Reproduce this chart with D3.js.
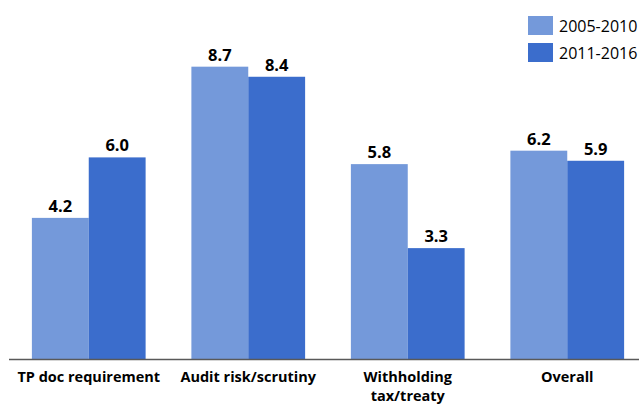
<!DOCTYPE html>
<html>
<head>
<meta charset="utf-8">
<script src="https://cdn.jsdelivr.net/npm/d3@7"></script>
<style>
  body { margin: 0; background: #fff; }
  text { font-family: "Open Sans", sans-serif; fill: #000; }
</style>
</head>
<body>
<div id="container"></div>
<script>
var categories = ["TP doc requirement", "Audit risk/scrutiny", "Withholding\ntax/treaty", "Overall"];
var series = ["2005-2010", "2011-2016"];
var values2005 = [4.2, 8.7, 5.8, 6.2];
var values2011 = [6.0, 8.4, 3.3, 5.9];

var color = ["#7499da", "#3b6dcc"];

var width = 639,
    height = 405,
    baseline = 359;

var svg = d3.select("#container").append("svg")
    .attr("width", width)
    .attr("height", height);

// groups
var x0 = d3.scaleBand()
    .domain(categories)
    .range([9, 647])
    .paddingInner(0.287)
    .paddingOuter(0.1435);

var x1 = d3.scaleBand()
    .domain(series)
    .range([0, x0.bandwidth()]);

var y = d3.scaleLinear()
    .domain([0, 10])
    .range([baseline, 23]);

var rows = categories.map(function(c, i) {
    return { cat: c, vals: [values2005[i], values2011[i]] };
});

var groups = svg.selectAll(".group")
    .data(rows)
    .enter().append("g")
    .attr("class", "group")
    .attr("transform", function(d) { return "translate(" + x0(d.cat) + ",0)"; });

groups.selectAll("rect")
    .data(function(d) { return d.vals.map(function(v, j) { return { s: series[j], v: v, j: j }; }); })
    .enter().append("rect")
    .attr("x", function(d) { return x1(d.s); })
    .attr("y", function(d) { return y(d.v); })
    .attr("width", x1.bandwidth())
    .attr("height", function(d) { return baseline - y(d.v); })
    .style("fill", function(d) { return color[d.j]; });

groups.selectAll(".val")
    .data(function(d) { return d.vals.map(function(v, j) { return { s: series[j], v: v }; }); })
    .enter().append("text")
    .attr("class", "val")
    .attr("x", function(d) { return x1(d.s) + x1.bandwidth() / 2; })
    .attr("y", function(d) { return y(d.v) - 6; })
    .attr("text-anchor", "middle")
    .style("font-size", "16.5px")
    .style("font-weight", "bold")
    .text(function(d) { return d3.format(".1f")(d.v); });

// x axis line
svg.append("line")
    .attr("x1", 9).attr("x2", width)
    .attr("y1", baseline + 0.5).attr("y2", baseline + 0.5)
    .style("stroke", "#595959")
    .style("stroke-width", 1.3);

// category labels, one text per line
var catLines = [];
categories.forEach(function(c) {
    c.split("\n").forEach(function(line, i) {
        catLines.push({ cat: c, line: line, i: i });
    });
});

svg.selectAll(".cat")
    .data(catLines)
    .enter().append("text")
    .attr("class", "cat")
    .attr("text-anchor", "middle")
    .attr("x", function(d) { return x0(d.cat) + x0.bandwidth() / 2; })
    .attr("y", function(d) { return 381.5 + d.i * 19.8; })
    .style("font-size", "14.5px")
    .style("font-weight", "bold")
    .text(function(d) { return d.line; });

// legend
var legend = svg.selectAll(".legend")
    .data(series)
    .enter().append("g")
    .attr("class", "legend")
    .attr("transform", function(d, i) { return "translate(528," + (16 + i * 27) + ")"; });

legend.append("rect")
    .attr("width", 25)
    .attr("height", 19)
    .style("fill", function(d, i) { return color[i]; });

legend.append("text")
    .attr("x", 31)
    .attr("y", 16)
    .style("font-size", "16px")
    .text(function(d) { return d; });
</script>
</body>
</html>
